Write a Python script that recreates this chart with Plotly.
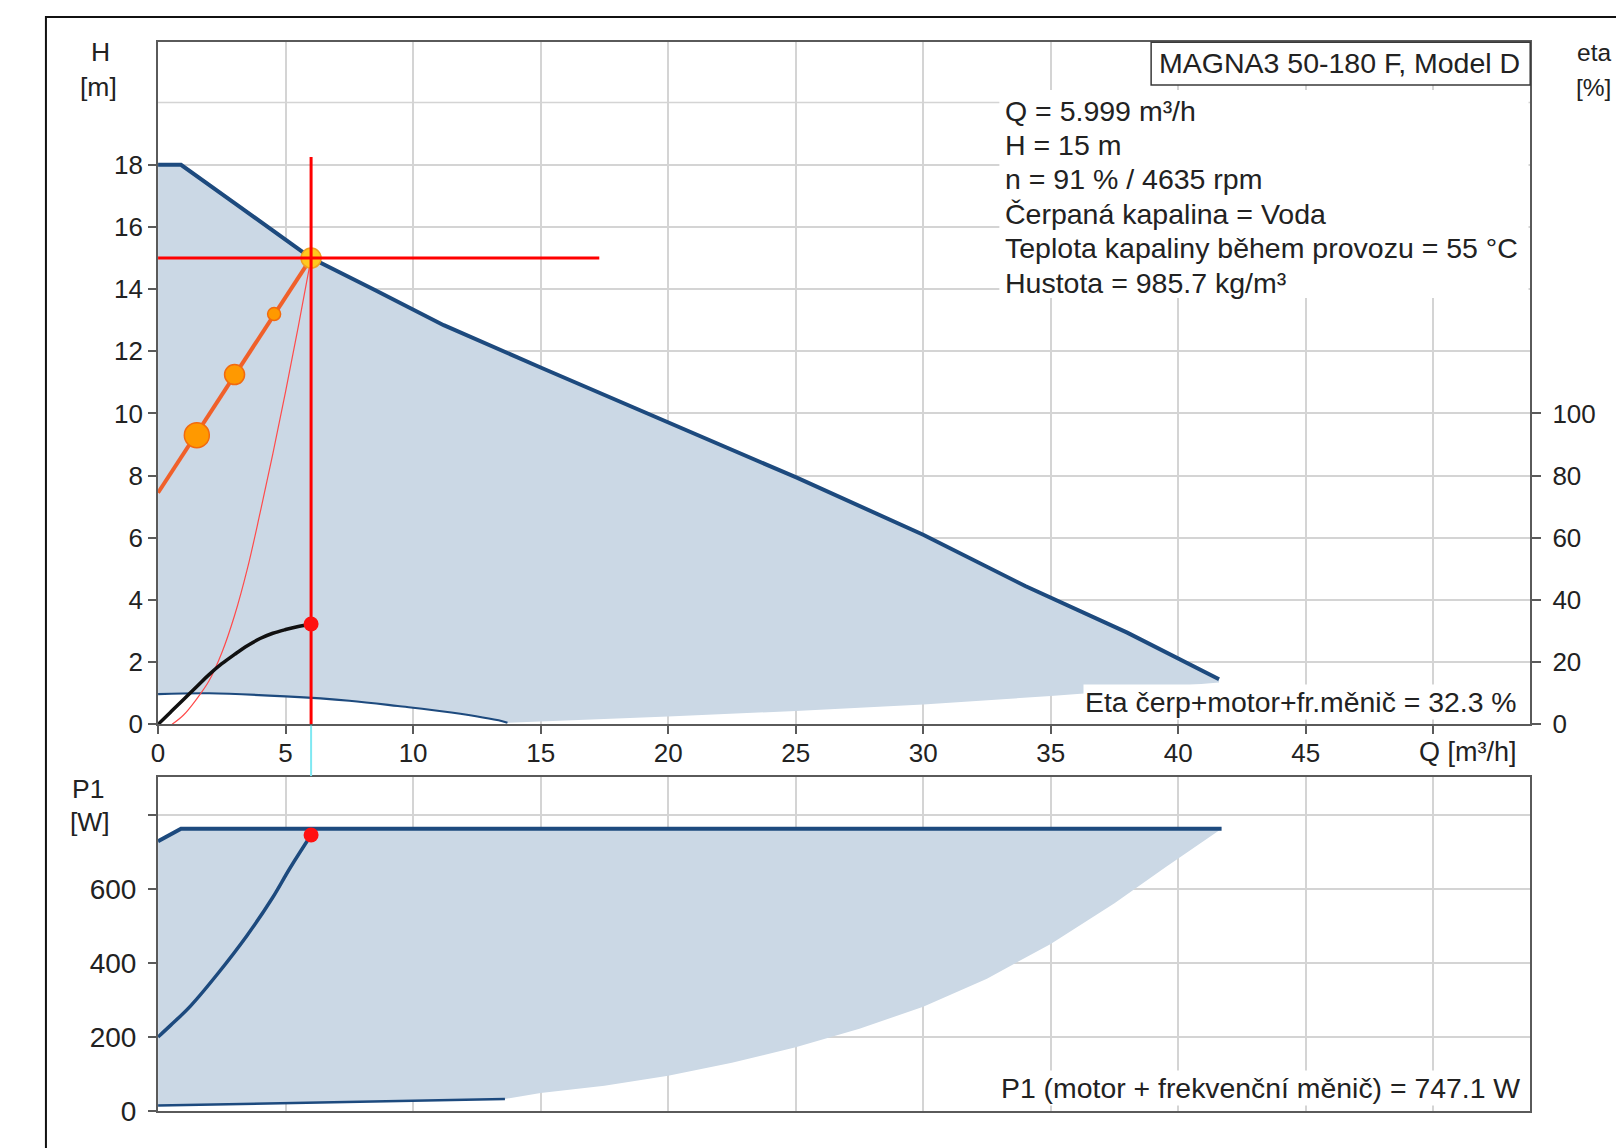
import plotly.graph_objects as go

# ---------------- data ----------------
# Max-speed QH curve
Q_MAX = [0, 0.9, 3, 6, 8.5, 11.2, 15, 20, 25, 30, 34, 38, 41.6]
H_MAX = [18, 18, 16.77, 15.0, 13.97, 12.84, 11.48, 9.7, 7.95, 6.1, 4.45, 2.95, 1.45]
# Min-speed QH curve
Q_MIN = [0, 2, 5, 7.5, 9.4, 11.5, 13.5, 13.7]
H_MIN = [0.97, 1.0, 0.9, 0.76, 0.59, 0.38, 0.1, 0.05]
# lower edge of the operating area beyond the min curve
Q_FLOOR = [13.7, 15.8, 20, 25, 30, 35, 38, 41.6]
H_FLOOR = [0.05, 0.11, 0.25, 0.43, 0.64, 0.91, 1.1, 1.35]
# control curve (proportional pressure) and its markers
Q_SYS = [0, 6]
H_SYS = [7.45, 15.0]
Q_MARK = [1.52, 3.0, 4.55]
H_MARK = [9.3, 11.25, 13.2]
# system curve through duty point
Q_PAR = [0.55, 1.0, 1.5, 2.0, 2.5, 3.0, 3.5, 4.0, 4.5, 5.0, 5.5, 6.0]
H_PAR = [0, 0.3, 0.8, 1.4, 2.3, 3.5, 5.0, 6.8, 8.7, 10.7, 12.8, 15.0]
# efficiency curve [%]
Q_ETA = [0, 0.5, 1.0, 1.5, 2.0, 2.5, 3.0, 3.5, 4.0, 4.5, 5.0, 5.5, 6.0]
ETA = [0, 4, 8, 12, 16, 19.5, 22.5, 25.3, 27.6, 29.3, 30.5, 31.5, 32.3]
# duty point
Q_DUTY = 6.0
H_DUTY = 15.0
ETA_DUTY = 32.3
P1_DUTY = 747.1
# crosshair extents
H_CROSS_TOP = 18.25
Q_CROSS_RIGHT = 17.3

# P1 curves
Q_P1MAX = [0, 0.9, 41.7]
P1_MAX = [730, 764, 764]
Q_P1MIN = [0, 5, 10, 13.6]
P1_MIN = [14, 20, 27, 32]
Q_P1 = [0, 0.5, 1.26, 2.37, 3.49, 4.47, 5.17, 6.0]
P1 = [200, 232, 283, 374, 475, 575, 657, 747]
Q_P1FLOOR = [13.6, 15, 17.5, 20, 22.5, 25, 27.5, 30, 32.5, 35, 37.5, 39.5, 41.7]
P1_FLOOR = [32, 48, 68, 95, 130, 172, 222, 282, 358, 452, 562, 660, 764]

X_TICKS = [0, 5, 10, 15, 20, 25, 30, 35, 40, 45, 50]
X_TICKTEXT = ["0", "5", "10", "15", "20", "25", "30", "35", "40", "45", ""]
H_TICKS = [0, 2, 4, 6, 8, 10, 12, 14, 16, 18]
ETA_TICKS = [0, 20, 40, 60, 80, 100]
P1_TICKS = [0, 200, 400, 600, 800]
P1_TICKTEXT = ["0", "200", "400", "600", ""]

INFO_LINES = [
    "Q = 5.999 m³/h",
    "H = 15 m",
    "n = 91 % / 4635 rpm",
    "Čerpaná kapalina = Voda",
    "Teplota kapaliny během provozu = 55 °C",
    "Hustota = 985.7 kg/m³",
]
TITLE = "MAGNA3 50-180 F, Model D"
ETA_TEXT = "Eta čerp+motor+fr.měnič = 32.3 %"
P1_TEXT = "P1 (motor + frekvenční měnič) = 747.1 W"

# ---------------- styling ----------------
W, H = 1616, 1148
FONT = "Liberation Sans, Arial, sans-serif"
NAVY = "#1d4a7e"
FILL = "#cbd8e5"
GRID = "#d4d4d4"
AXC = "#5a5a5a"
TXT = "#222222"

# target pixel positions -> paper fractions (with a small correction for the
# capture pipeline observed in earlier renders)
def px_x(p):
    return ((p - 6.0) / 0.9973) / W

def px_y(p):
    return 1 - (p / 0.986) / H

X_DOM = [px_x(157.3), px_x(1531.7)]
Y_TOP = [px_y(724.3), px_y(42.3)]
Y_BOT = [px_y(1110.7), px_y(776.7)]
X_RANGE = [0, 53.8]
H_RANGE = [0, 21.94]
ETA_RANGE = [0, 219.4]
P_RANGE = [0, 905]

fig = go.Figure()

# ---- top panel ----
poly_q = Q_MAX + Q_FLOOR[::-1] + Q_MIN[::-1]
poly_h = H_MAX + H_FLOOR[::-1] + H_MIN[::-1]
fig.add_trace(go.Scatter(x=poly_q, y=poly_h, fill="toself", fillcolor=FILL,
                         line=dict(width=0), mode="lines", hoverinfo="skip",
                         xaxis="x", yaxis="y"))
fig.add_trace(go.Scatter(x=Q_MIN, y=H_MIN, mode="lines", line_shape="spline",
                         line=dict(color=NAVY, width=2.2), xaxis="x", yaxis="y"))
fig.add_trace(go.Scatter(x=Q_MAX, y=H_MAX, mode="lines",
                         line=dict(color=NAVY, width=4), xaxis="x", yaxis="y"))
fig.add_trace(go.Scatter(x=Q_PAR, y=H_PAR, mode="lines", line_shape="spline",
                         line=dict(color="#ff4a4a", width=1.2), xaxis="x", yaxis="y"))
fig.add_trace(go.Scatter(x=Q_SYS, y=H_SYS, mode="lines",
                         line=dict(color="#f0602a", width=4), xaxis="x", yaxis="y"))
fig.add_trace(go.Scatter(x=Q_MARK, y=H_MARK, mode="markers",
                         marker=dict(color="#ff9900", size=[25, 20, 13], opacity=1,
                                     line=dict(color="#f26a0f", width=1.5)),
                         xaxis="x", yaxis="y"))
fig.add_trace(go.Scatter(x=[Q_DUTY], y=[H_DUTY], mode="markers",
                         marker=dict(color="#ffc81e", size=20, opacity=1,
                                     line=dict(color="#f0a020", width=1.5)),
                         xaxis="x", yaxis="y"))
fig.add_trace(go.Scatter(x=Q_ETA, y=ETA, mode="lines", line_shape="spline",
                         line=dict(color="#111111", width=3.5), xaxis="x", yaxis="y2"))
fig.add_trace(go.Scatter(x=[Q_DUTY, Q_DUTY], y=[0, H_CROSS_TOP], mode="lines",
                         line=dict(color="#ff0000", width=3), xaxis="x", yaxis="y"))
fig.add_trace(go.Scatter(x=[0, Q_CROSS_RIGHT], y=[H_DUTY, H_DUTY], mode="lines",
                         line=dict(color="#ff0000", width=3), xaxis="x", yaxis="y"))
fig.add_trace(go.Scatter(x=[Q_DUTY], y=[ETA_DUTY], mode="markers",
                         marker=dict(color="#ff1010", size=15), xaxis="x", yaxis="y2"))

# ---- bottom panel ----
ppoly_q = Q_P1MAX + Q_P1FLOOR[::-1] + Q_P1MIN[::-1]
ppoly_p = P1_MAX + P1_FLOOR[::-1] + P1_MIN[::-1]
fig.add_trace(go.Scatter(x=ppoly_q, y=ppoly_p, fill="toself", fillcolor=FILL,
                         line=dict(width=0), mode="lines",
                         hoverinfo="skip", xaxis="x2", yaxis="y3"))
fig.add_trace(go.Scatter(x=Q_P1MIN, y=P1_MIN, mode="lines",
                         line=dict(color=NAVY, width=2.5), xaxis="x2", yaxis="y3"))
fig.add_trace(go.Scatter(x=Q_P1MAX, y=P1_MAX, mode="lines",
                         line=dict(color=NAVY, width=4), xaxis="x2", yaxis="y3"))
fig.add_trace(go.Scatter(x=Q_P1, y=P1, mode="lines", line_shape="spline",
                         line=dict(color=NAVY, width=3.5), xaxis="x2", yaxis="y3"))
fig.add_trace(go.Scatter(x=[Q_DUTY], y=[P1_DUTY], mode="markers",
                         marker=dict(color="#ff1010", size=15), xaxis="x2", yaxis="y3"))

tickfont = dict(family=FONT, size=26, color=TXT)
axis_common = dict(showline=True, linecolor=AXC, linewidth=2, mirror=True,
                   gridcolor=GRID, gridwidth=1.5, zeroline=False,
                   ticks="outside", ticklen=8, tickwidth=2, tickcolor=AXC,
                   tickfont=tickfont, fixedrange=True)

fig.update_layout(
    width=W, height=H, autosize=False,
    margin=dict(l=0, r=0, t=0, b=0, pad=0),
    paper_bgcolor="white", plot_bgcolor="white",
    showlegend=False,
    font=dict(family=FONT, color=TXT),
    xaxis=dict(domain=X_DOM, anchor="y", range=X_RANGE, tickvals=X_TICKS,
               ticktext=X_TICKTEXT, ticklabelstandoff=-4, **axis_common),
    yaxis=dict(domain=Y_TOP, anchor="x", range=H_RANGE, tickvals=H_TICKS,
               **axis_common),
    yaxis2=dict(overlaying="y", side="right", anchor="x", range=ETA_RANGE,
                tickvals=ETA_TICKS, showgrid=False, showline=False, zeroline=False,
                ticks="outside", ticklen=10, tickwidth=2, tickcolor=AXC,
                ticklabelstandoff=6, tickfont=tickfont, fixedrange=True),
    xaxis2=dict(domain=X_DOM, anchor="y3", range=X_RANGE, tickvals=X_TICKS,
                showticklabels=False, **{k: v for k, v in axis_common.items() if k != "ticks"},
                ticks=""),
    yaxis3=dict(domain=Y_BOT, anchor="x2", range=P_RANGE, tickvals=P1_TICKS,
                ticktext=P1_TICKTEXT, ticklabelstandoff=6,
                **{k: v for k, v in axis_common.items() if k != "tickfont"},
                tickfont=dict(family=FONT, size=28, color=TXT)),
)

shapes = []
# gridline at H=20 (no label)
shapes.append(dict(type="line", xref="x", yref="y", x0=X_RANGE[0], x1=X_RANGE[1],
                   y0=20, y1=20, line=dict(color=GRID, width=1.5), layer="below"))
# cyan continuation of the duty-point line between panels
shapes.append(dict(type="line", xref="x", yref="paper", x0=Q_DUTY, x1=Q_DUTY,
                   y0=px_y(776), y1=px_y(725.5), line=dict(color="#7fe8f2", width=2)))
# white background behind the info text block
shapes.append(dict(type="rect", xref="paper", yref="paper",
                   x0=px_x(1000), x1=px_x(1530), y0=px_y(298), y1=px_y(90),
                   fillcolor="white", line=dict(width=0), layer="above"))
# title box
shapes.append(dict(type="rect", xref="paper", yref="paper",
                   x0=px_x(1152), x1=px_x(1531.7), y0=px_y(85), y1=px_y(42.3),
                   fillcolor="white", line=dict(color="#3a3a3a", width=1.5), layer="above"))
# outer frame
shapes.append(dict(type="rect", xref="paper", yref="paper",
                   x0=px_x(45), x1=1.02, y0=-0.02, y1=px_y(17),
                   fillcolor="rgba(0,0,0,0)", line=dict(color="#111111", width=2)))
fig.update_layout(shapes=shapes)

ann = []
def label(text, x, y, size, xanchor="center", bg=None):
    d = dict(text=text, xref="paper", yref="paper", x=px_x(x), y=px_y(y),
             xanchor=xanchor, yanchor="middle", showarrow=False,
             font=dict(family=FONT, size=size, color=TXT))
    if bg:
        d["bgcolor"] = bg
        d["borderpad"] = 1
    ann.append(d)

label("H", 100, 52, 26.5)
label("[m]", 98, 87, 26.5)
label("P1", 87, 789, 26.5)
label("[W]", 89, 822, 26.5)
label("eta", 1577, 52, 24.5, xanchor="left")
label("[%]", 1576, 87, 24.5, xanchor="left")
label("Q [m³/h]", 1520, 752, 27, xanchor="right")
label(TITLE, 1523, 63, 28.5, xanchor="right")
for i, line in enumerate(INFO_LINES):
    label(line, 1004, 110.5 + i * 34.4, 28.5, xanchor="left")
label(ETA_TEXT, 1520, 702, 28.4, xanchor="right", bg="white")
label(P1_TEXT, 1523, 1088, 28.4, xanchor="right", bg="white")
fig.update_layout(annotations=ann)

fig.write_html("out.html",
               config={"displayModeBar": False},
               post_script="document.body.style.margin='0px';"
                           "document.body.style.overflow='hidden';")
